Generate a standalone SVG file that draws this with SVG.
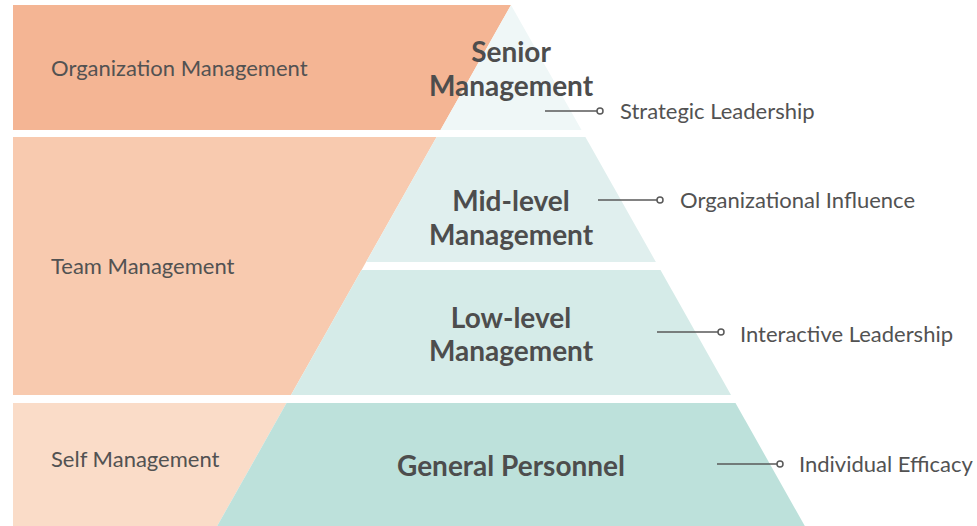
<svg xmlns="http://www.w3.org/2000/svg" width="977" height="526" viewBox="0 0 977 526">
  <style>
    .lbl { font-family: Lato, "Open Sans", "Liberation Sans", sans-serif; font-size: 22px; fill: #525252; }
    .ttl { font-family: Lato, "Open Sans", "Liberation Sans", sans-serif; font-size: 28px; font-weight: bold; fill: #4d4d4d; text-anchor: middle; }
    .conn { stroke: #595959; stroke-width: 1.5; fill: none; }
    .dot { stroke: #595959; stroke-width: 1.5; fill: #ffffff; }
  </style>
  <rect width="977" height="526" fill="#ffffff"/>
  <g id="band-organization">
    <polygon points="13,5 511,5 440.5,130 13,130" fill="#F4B594"/>
    <text class="lbl" x="51" y="76">Organization Management</text>
  </g>
  <g id="band-team">
    <polygon points="13,137 436.6,137 291,395 13,395" fill="#F8CAAF"/>
    <text class="lbl" x="51" y="274">Team Management</text>
  </g>
  <g id="band-self">
    <polygon points="13,403 286.5,403 217.2,526 13,526" fill="#FADCC8"/>
    <text class="lbl" x="51" y="467">Self Management</text>
  </g>
  <g id="tier-senior">
    <polygon points="511,5 581.5,130 440.5,130" fill="#EFF7F7"/>
    <text class="ttl" x="511" y="62">Senior</text>
    <text class="ttl" x="511" y="96">Management</text>
  </g>
  <g id="tier-mid">
    <polygon points="436.6,137 585.4,137 655.9,262 366.1,262" fill="#E0EFEE"/>
    <text class="ttl" x="511" y="211">Mid-level</text>
    <text class="ttl" x="511" y="245">Management</text>
  </g>
  <g id="tier-low">
    <polygon points="361.5,270 660.5,270 731,395 291,395" fill="#D5EBE8"/>
    <text class="ttl" x="511" y="328">Low-level</text>
    <text class="ttl" x="511" y="361">Management</text>
  </g>
  <g id="tier-general">
    <polygon points="286.5,403 735.5,403 804.8,526 217.2,526" fill="#BDE1DB"/>
    <text class="ttl" x="511" y="476">General Personnel</text>
  </g>
  <g id="connectors">
    <line class="conn" x1="545" y1="111" x2="597" y2="111"/>
    <circle class="dot" cx="600" cy="111" r="3"/>
    <line class="conn" x1="598" y1="200" x2="657" y2="200"/>
    <circle class="dot" cx="660" cy="200" r="3"/>
    <line class="conn" x1="657" y1="332" x2="718" y2="332"/>
    <circle class="dot" cx="721" cy="332" r="3"/>
    <line class="conn" x1="717" y1="464" x2="777" y2="464"/>
    <circle class="dot" cx="780" cy="464" r="3"/>
  </g>
  <g id="label-strategic"><text class="lbl" x="620" y="119">Strategic Leadership</text></g>
  <g id="label-influence"><text class="lbl" x="680" y="208">Organizational Influence</text></g>
  <g id="label-interactive"><text class="lbl" x="740" y="342">Interactive Leadership</text></g>
  <g id="label-efficacy"><text class="lbl" x="799" y="472">Individual Efficacy</text></g>
</svg>
